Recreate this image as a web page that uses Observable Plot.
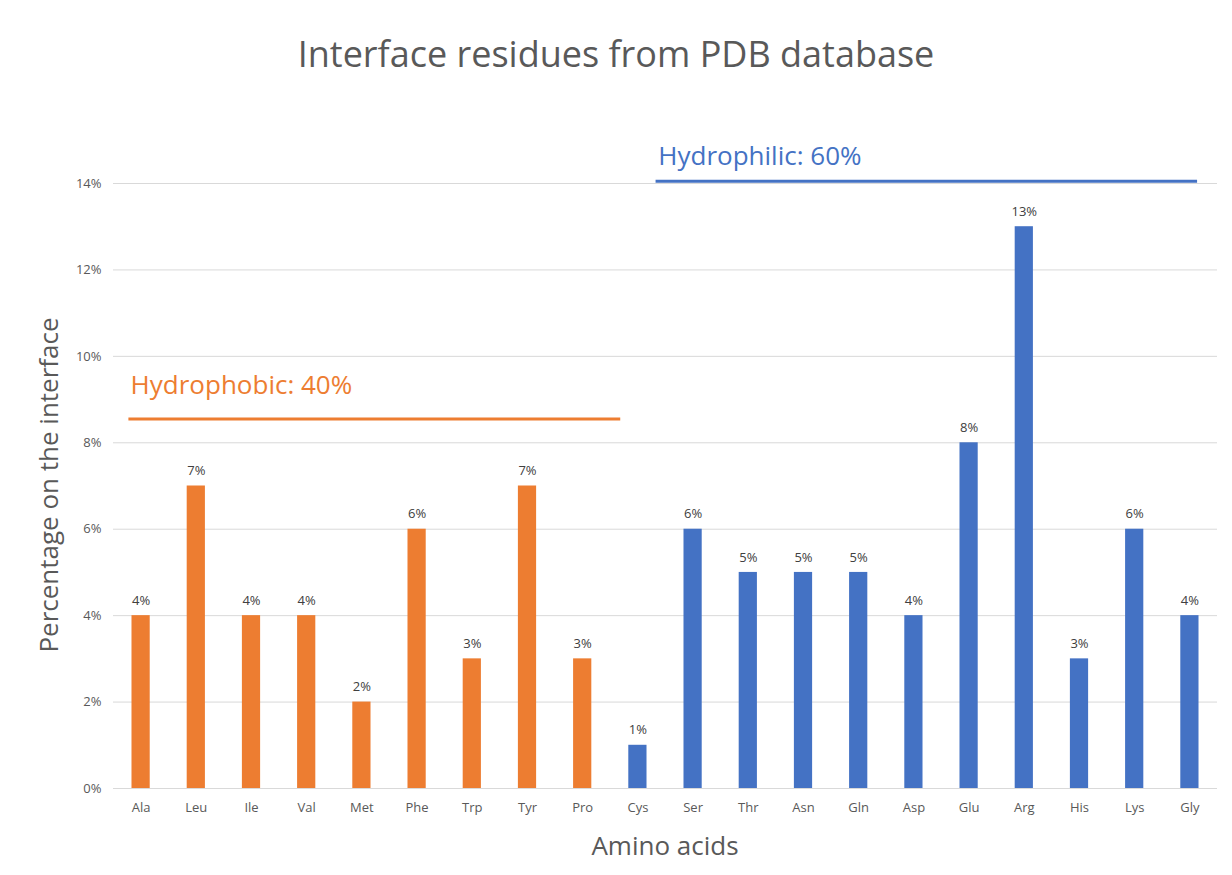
<!DOCTYPE html>
<html><head><meta charset="utf-8">
<script src="https://cdn.jsdelivr.net/npm/d3@7"></script>
<script src="https://cdn.jsdelivr.net/npm/@observablehq/plot@0.6"></script>
<style>
body{margin:0;background:#fff;font-family:"Open Sans",sans-serif}
#title{height:100px;line-height:108px;text-align:center;font-size:36px;color:#595959}
</style></head><body>
<div id="title">Interface residues from PDB database</div>
<div id="chart"></div>
<script>
const aminoAcids = ["Ala","Leu","Ile","Val","Met","Phe","Trp","Tyr","Pro","Cys","Ser","Thr","Asn","Gln","Asp","Glu","Arg","His","Lys","Gly"];
const percents = [4,7,4,4,2,6,3,7,3,1,6,5,5,5,4,8,13,3,6,4];
const groups = ["Hydrophobic","Hydrophobic","Hydrophobic","Hydrophobic","Hydrophobic","Hydrophobic","Hydrophobic","Hydrophobic","Hydrophobic","Hydrophilic","Hydrophilic","Hydrophilic","Hydrophilic","Hydrophilic","Hydrophilic","Hydrophilic","Hydrophilic","Hydrophilic","Hydrophilic","Hydrophilic"];
const yTicks = [0,2,4,6,8,10,12,14];
const annotations = [
  {label:"Hydrophobic: 40%", x1:-0.23, x2:8.68, y:8.55, ty:9.33, tx:-0.19, group:"Hydrophobic"},
  {label:"Hydrophilic: 60%", x1:9.32, x2:19.13, y:14.05, ty:14.62, tx:9.37, group:"Hydrophilic"}
];
const colors = {Hydrophobic:"#ED7D31", Hydrophilic:"#4472C4"};
const data = aminoAcids.map((a,i)=>({i, a, v:percents[i], g:groups[i]}));
const hw = 0.165;
const plot = Plot.plot({
  width:1232, height:775,
  marginTop:83, marginBottom:87, marginLeft:113, marginRight:15,
  style:{fontFamily:"Open Sans, sans-serif", fontSize:"13px", color:"#595959", overflow:"visible"},
  x:{domain:[-0.5,19.5], ticks:d3.range(20), tickFormat:i=>aminoAcids[i], tickSize:0, tickPadding:14, label:null},
  y:{domain:[0,14], ticks:yTicks, tickFormat:d=>d+"%", tickSize:0, tickPadding:12, label:null},
  marks:[
    Plot.ruleY(yTicks,{stroke:"#d9d9d9", strokeWidth:1}),
    Plot.rectY(data,{x1:d=>d.i-hw, x2:d=>d.i+hw, y1:0, y2:"v", fill:d=>colors[d.g]}),
    Plot.text(data,{x:"i", y:"v", text:d=>d.v+"%", dy:-15, fill:"#404040", fontSize:13}),
    Plot.link(annotations,{x1:"x1", x2:"x2", y1:"y", y2:"y", stroke:d=>colors[d.group], strokeWidth:3}),
    Plot.text(annotations,{x:"tx", y:"ty", text:"label", textAnchor:"start", fill:d=>colors[d.group], fontSize:26})
  ]
});
const svg = d3.select(plot);
svg.append("text").attr("x",665).attr("y",755).attr("text-anchor","middle").attr("font-size",26).attr("fill","#595959").text("Amino acids");
svg.append("text").attr("transform","translate(58,385) rotate(-90)").attr("text-anchor","middle").attr("font-size",26).attr("fill","#595959").text("Percentage on the interface");
document.getElementById("chart").appendChild(plot);
</script></body></html>
